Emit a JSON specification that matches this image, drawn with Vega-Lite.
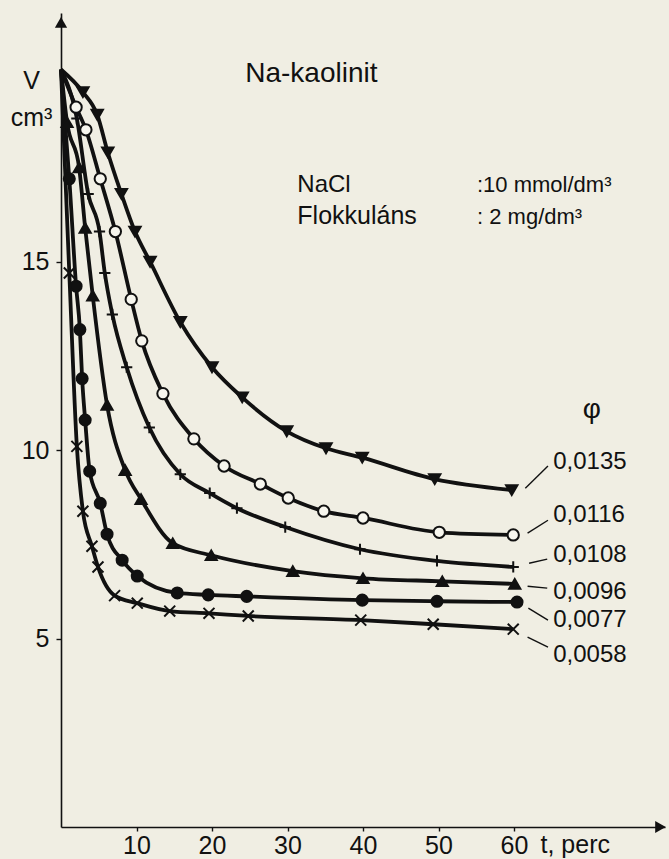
{
  "$schema": "https://vega.github.io/schema/vega-lite/v6.json",
  "width": 604,
  "height": 814,
  "autosize": "none",
  "padding": {"left": 61, "top": 13, "right": 4, "bottom": 32},
  "background": "#f0eee3",
  "config": {
    "font": "Liberation Sans",
    "view": {"stroke": null},
    "axis": {"grid": false, "domainColor": "#111", "domainWidth": 1.6, "tickColor": "#111", "tickWidth": 1.4, "labelColor": "#111", "titleColor": "#111", "labelFont": "Liberation Sans", "titleFont": "Liberation Sans", "labelFontSize": 25, "titleFontSize": 25, "titleFontWeight": "normal"}
  },
  "datasets": {
    "curves": [
      {"phi": "0,0135", "t": 0, "V": 20.1},
      {"phi": "0,0135", "t": 2.9, "V": 19.5},
      {"phi": "0,0135", "t": 4.8, "V": 18.9},
      {"phi": "0,0135", "t": 6.2, "V": 17.9},
      {"phi": "0,0135", "t": 8.0, "V": 16.8},
      {"phi": "0,0135", "t": 9.8, "V": 15.8},
      {"phi": "0,0135", "t": 11.8, "V": 15.0},
      {"phi": "0,0135", "t": 15.8, "V": 13.4},
      {"phi": "0,0135", "t": 20.0, "V": 12.2},
      {"phi": "0,0135", "t": 24.0, "V": 11.4},
      {"phi": "0,0135", "t": 29.9, "V": 10.5},
      {"phi": "0,0135", "t": 35.1, "V": 10.05},
      {"phi": "0,0135", "t": 39.9, "V": 9.8},
      {"phi": "0,0135", "t": 49.5, "V": 9.23},
      {"phi": "0,0135", "t": 59.7, "V": 8.94},
      {"phi": "0,0116", "t": 0, "V": 20.1},
      {"phi": "0,0116", "t": 2.0, "V": 19.1},
      {"phi": "0,0116", "t": 3.3, "V": 18.5},
      {"phi": "0,0116", "t": 5.2, "V": 17.2},
      {"phi": "0,0116", "t": 7.2, "V": 15.8},
      {"phi": "0,0116", "t": 9.3, "V": 14.0},
      {"phi": "0,0116", "t": 10.7, "V": 12.9},
      {"phi": "0,0116", "t": 13.5, "V": 11.5},
      {"phi": "0,0116", "t": 17.6, "V": 10.3},
      {"phi": "0,0116", "t": 21.6, "V": 9.58},
      {"phi": "0,0116", "t": 26.4, "V": 9.1},
      {"phi": "0,0116", "t": 30.1, "V": 8.73},
      {"phi": "0,0116", "t": 34.8, "V": 8.38},
      {"phi": "0,0116", "t": 40.0, "V": 8.2},
      {"phi": "0,0116", "t": 50.1, "V": 7.82},
      {"phi": "0,0116", "t": 59.9, "V": 7.75},
      {"phi": "0,0108", "t": 0, "V": 20.1},
      {"phi": "0,0108", "t": 2.1, "V": 18.8},
      {"phi": "0,0108", "t": 3.6, "V": 16.8},
      {"phi": "0,0108", "t": 5.1, "V": 15.8},
      {"phi": "0,0108", "t": 5.8, "V": 14.7},
      {"phi": "0,0108", "t": 6.8, "V": 13.6},
      {"phi": "0,0108", "t": 8.7, "V": 12.2},
      {"phi": "0,0108", "t": 11.7, "V": 10.6},
      {"phi": "0,0108", "t": 15.8, "V": 9.36},
      {"phi": "0,0108", "t": 19.7, "V": 8.86},
      {"phi": "0,0108", "t": 23.3, "V": 8.46},
      {"phi": "0,0108", "t": 29.7, "V": 7.96},
      {"phi": "0,0108", "t": 39.6, "V": 7.37},
      {"phi": "0,0108", "t": 49.8, "V": 7.06},
      {"phi": "0,0108", "t": 59.9, "V": 6.9},
      {"phi": "0,0096", "t": 0, "V": 20.1},
      {"phi": "0,0096", "t": 0.8, "V": 18.7},
      {"phi": "0,0096", "t": 2.4, "V": 17.5},
      {"phi": "0,0096", "t": 3.2, "V": 15.9},
      {"phi": "0,0096", "t": 4.2, "V": 14.1},
      {"phi": "0,0096", "t": 6.1, "V": 11.2},
      {"phi": "0,0096", "t": 8.5, "V": 9.47},
      {"phi": "0,0096", "t": 10.6, "V": 8.7},
      {"phi": "0,0096", "t": 14.8, "V": 7.53},
      {"phi": "0,0096", "t": 19.9, "V": 7.21},
      {"phi": "0,0096", "t": 30.7, "V": 6.79},
      {"phi": "0,0096", "t": 40.0, "V": 6.6},
      {"phi": "0,0096", "t": 50.5, "V": 6.52},
      {"phi": "0,0096", "t": 60.1, "V": 6.45},
      {"phi": "0,0077", "t": 0, "V": 20.1},
      {"phi": "0,0077", "t": 1.1, "V": 17.2},
      {"phi": "0,0077", "t": 2.0, "V": 14.35},
      {"phi": "0,0077", "t": 2.5, "V": 13.2},
      {"phi": "0,0077", "t": 2.8, "V": 11.9},
      {"phi": "0,0077", "t": 3.2, "V": 10.8},
      {"phi": "0,0077", "t": 3.8, "V": 9.44},
      {"phi": "0,0077", "t": 5.2, "V": 8.59},
      {"phi": "0,0077", "t": 6.1, "V": 7.77},
      {"phi": "0,0077", "t": 8.1, "V": 7.08},
      {"phi": "0,0077", "t": 10.1, "V": 6.66},
      {"phi": "0,0077", "t": 15.4, "V": 6.21},
      {"phi": "0,0077", "t": 19.5, "V": 6.16},
      {"phi": "0,0077", "t": 24.6, "V": 6.12},
      {"phi": "0,0077", "t": 39.9, "V": 6.02},
      {"phi": "0,0077", "t": 49.8, "V": 5.99},
      {"phi": "0,0077", "t": 60.4, "V": 5.97},
      {"phi": "0,0058", "t": 0, "V": 20.1},
      {"phi": "0,0058", "t": 1.1, "V": 14.7},
      {"phi": "0,0058", "t": 2.1, "V": 10.1},
      {"phi": "0,0058", "t": 2.9, "V": 8.38},
      {"phi": "0,0058", "t": 4.1, "V": 7.45},
      {"phi": "0,0058", "t": 4.9, "V": 6.9},
      {"phi": "0,0058", "t": 7.1, "V": 6.14},
      {"phi": "0,0058", "t": 10.1, "V": 5.94},
      {"phi": "0,0058", "t": 14.4, "V": 5.73},
      {"phi": "0,0058", "t": 19.6, "V": 5.67},
      {"phi": "0,0058", "t": 24.8, "V": 5.6},
      {"phi": "0,0058", "t": 39.7, "V": 5.49},
      {"phi": "0,0058", "t": 49.3, "V": 5.38},
      {"phi": "0,0058", "t": 59.9, "V": 5.25}
    ],
    "labels": [
      {"phi": "0,0135", "lt": 65.2, "lv": 9.68, "t1": 61.5, "v1": 8.99, "t2": 64.5, "v2": 9.58},
      {"phi": "0,0116", "lt": 65.2, "lv": 8.28, "t1": 61.8, "v1": 7.8, "t2": 64.5, "v2": 8.14},
      {"phi": "0,0108", "lt": 65.2, "lv": 7.21, "t1": 62.0, "v1": 7.0, "t2": 64.4, "v2": 7.11},
      {"phi": "0,0096", "lt": 65.2, "lv": 6.23, "t1": 61.8, "v1": 6.39, "t2": 64.4, "v2": 6.34},
      {"phi": "0,0077", "lt": 65.2, "lv": 5.49, "t1": 61.9, "v1": 5.81, "t2": 64.5, "v2": 5.49},
      {"phi": "0,0058", "lt": 65.2, "lv": 4.56, "t1": 61.8, "v1": 5.04, "t2": 64.5, "v2": 4.77}
    ],
    "notes": [
      {"text": "Na-kaolinit", "t": 24.4, "V": 19.76, "size": 28},
      {"text": "NaCl", "t": 31.3, "V": 16.85, "size": 24},
      {"text": ":10 mmol/dm³", "t": 55.1, "V": 16.85, "size": 22},
      {"text": "Flokkuláns", "t": 31.3, "V": 16.0, "size": 25},
      {"text": ":  2 mg/dm³", "t": 55.1, "V": 16.0, "size": 22}
    ]
  },
  "layer": [
    {
      "data": {"values": [{"t": 0, "V": 21.35}]},
      "mark": {"type": "point", "shape": "triangle-up", "filled": true, "color": "#111", "size": 150, "opacity": 1},
      "encoding": {
        "x": {"field": "t", "type": "quantitative", "scale": {"domain": [0, 80], "nice": false}, "axis": {"values": [10, 20, 30, 40, 50, 60], "tickSize": 4, "labelPadding": 2, "title": "t, perc", "titleAlign": "left", "titleBaseline": "middle", "titleX": 479, "titleY": 17, "titleFontSize": 25}},
        "y": {"field": "V", "type": "quantitative", "scale": {"domain": [0, 21.6], "nice": false, "zero": true}, "axis": {"values": [5, 10, 15], "tickSize": 5, "labelPadding": 7, "title": ["V", "cm³"], "titleAngle": 0, "titleAlign": "center", "titleBaseline": "middle", "titleX": -30, "titleY": 67, "titleLineHeight": 37, "titleFontSize": 25}}
      }
    },
    {
      "data": {"values": [{"t": 79.4, "V": 0}]},
      "mark": {"type": "point", "shape": "triangle-right", "filled": true, "color": "#111", "size": 150, "opacity": 1},
      "encoding": {
        "x": {"field": "t", "type": "quantitative"},
        "y": {"field": "V", "type": "quantitative"}
      }
    },
    {
      "data": {"name": "curves"},
      "mark": {"type": "line", "interpolate": "monotone", "color": "#111", "strokeWidth": 3.8},
      "encoding": {
        "x": {"field": "t", "type": "quantitative"},
        "y": {"field": "V", "type": "quantitative"},
        "detail": {"field": "phi", "type": "nominal"}
      }
    },
    {
      "data": {"name": "curves"},
      "transform": [{"filter": "datum.t > 0"}],
      "mark": {"type": "point", "stroke": "#111", "strokeWidth": 2, "opacity": 1},
      "encoding": {
        "x": {"field": "t", "type": "quantitative"},
        "y": {"field": "V", "type": "quantitative"},
        "shape": {"field": "phi", "type": "nominal", "legend": null, "scale": {"domain": ["0,0135", "0,0116", "0,0108", "0,0096", "0,0077", "0,0058"], "range": ["triangle-down", "circle", "M-1,0H1M0,-1V1", "triangle-up", "circle", "M-1,-1L1,1M-1,1L1,-1"]}},
        "fill": {"field": "phi", "type": "nominal", "legend": null, "scale": {"domain": ["0,0135", "0,0116", "0,0108", "0,0096", "0,0077", "0,0058"], "range": ["#111", "#f7f6ee", "transparent", "#111", "#111", "transparent"]}},
        "size": {"field": "phi", "type": "nominal", "legend": null, "scale": {"domain": ["0,0135", "0,0116", "0,0108", "0,0096", "0,0077", "0,0058"], "range": [130, 120, 140, 130, 115, 80]}}
      }
    },
    {
      "data": {"name": "labels"},
      "mark": {"type": "rule", "color": "#111", "strokeWidth": 1.4},
      "encoding": {
        "x": {"field": "t1", "type": "quantitative"},
        "y": {"field": "v1", "type": "quantitative"},
        "x2": {"field": "t2"},
        "y2": {"field": "v2"}
      }
    },
    {
      "data": {"name": "labels"},
      "mark": {"type": "text", "align": "left", "baseline": "middle", "fontSize": 24, "color": "#111"},
      "encoding": {
        "x": {"field": "lt", "type": "quantitative"},
        "y": {"field": "lv", "type": "quantitative"},
        "text": {"field": "phi"}
      }
    },
    {
      "data": {"values": [{"text": "φ", "t": 70.3, "V": 11.06}]},
      "mark": {"type": "text", "align": "center", "baseline": "middle", "fontSize": 28, "color": "#111"},
      "encoding": {
        "x": {"field": "t", "type": "quantitative"},
        "y": {"field": "V", "type": "quantitative"},
        "text": {"field": "text"}
      }
    },
    {
      "data": {"name": "notes"},
      "mark": {"type": "text", "align": "left", "baseline": "alphabetic", "color": "#111"},
      "encoding": {
        "x": {"field": "t", "type": "quantitative"},
        "y": {"field": "V", "type": "quantitative"},
        "text": {"field": "text"},
        "size": {"field": "size", "type": "quantitative", "scale": null}
      }
    }
  ]
}
